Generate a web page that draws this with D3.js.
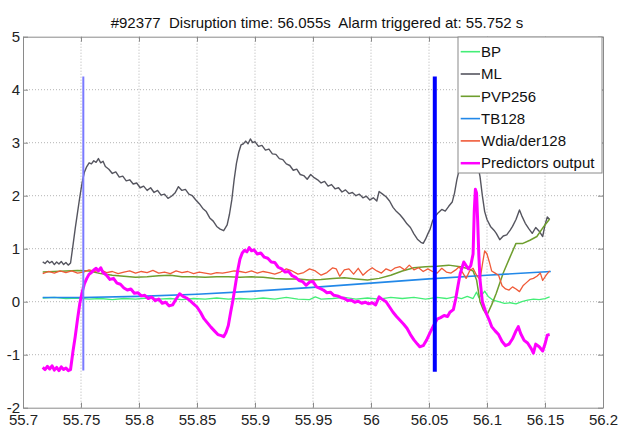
<!DOCTYPE html>
<html>
<head>
<meta charset="utf-8">
<script src="https://cdn.jsdelivr.net/npm/d3@7"></script>
<style>
  body { margin: 0; background: #fff; }
  svg { display: block; font-family: "Liberation Sans", Arial, sans-serif; }
</style>
</head>
<body>
<script>
// ---- data ----
const titleText = "#92377  Disruption time: 56.055s  Alarm triggered at: 55.752 s";
const xTicks = [55.7, 55.75, 55.8, 55.85, 55.9, 55.95, 56, 56.05, 56.1, 56.15, 56.2];
const xTickLabels = ["55.7", "55.75", "55.8", "55.85", "55.9", "55.95", "56", "56.05", "56.1", "56.15", "56.2"];
const yTicks = [-2, -1, 0, 1, 2, 3, 4, 5];
const yTickLabels = ["-2", "-1", "0", "1", "2", "3", "4", "5"];
const seriesNames = ["BP", "ML", "PVP256", "TB128", "Wdia/der128", "Predictors output"];
const seriesColors = ["#44ee77", "#55555f", "#6e9e2e", "#2288e8", "#f05a38", "#ff00ff"];

const bp = [[55.717,0.07],[55.727,0.08],[55.737,0.06],[55.747,0.07],[55.757,0.05],[55.767,0.06],[55.777,0.04],[55.787,0.06],[55.797,0.05],[55.807,0.07],[55.817,0.05],[55.827,0.06],[55.837,0.04],[55.847,0.06],[55.857,0.05],[55.867,0.07],[55.877,0.05],[55.887,0.06],[55.897,0.05],[55.907,0.07],[55.917,0.05],[55.927,0.08],[55.937,0.05],[55.947,0.04],[55.952,0.09],[55.957,0.05],[55.967,0.06],[55.977,0.08],[55.987,0.05],[55.997,0.07],[56.007,0.05],[56.017,0.08],[56.027,0.06],[56.037,0.08],[56.047,0.05],[56.057,0.08],[56.065,0.06],[56.072,0.09],[56.078,0.06],[56.083,0.10],[56.088,0.06],[56.091,0.18],[56.093,0.08],[56.096,0.14],[56.098,0.20],[56.101,0.10],[56.105,0.03],[56.110,0.00],[56.115,-0.03],[56.120,-0.02],[56.125,-0.04],[56.130,0.00],[56.135,0.03],[56.140,0.05],[56.145,0.04],[56.150,0.06],[56.154,0.09]];

const ml = [[55.717,0.75],[55.719,0.72],[55.721,0.77],[55.723,0.73],[55.725,0.76],[55.727,0.70],[55.729,0.75],[55.731,0.71],[55.733,0.76],[55.735,0.70],[55.737,0.74],[55.739,0.69],[55.741,0.73],[55.743,1.05],[55.745,1.38],[55.747,1.68],[55.749,1.98],[55.751,2.25],[55.753,2.45],[55.755,2.55],[55.757,2.62],[55.759,2.60],[55.761,2.66],[55.763,2.63],[55.765,2.70],[55.767,2.62],[55.769,2.65],[55.771,2.55],[55.774,2.50],[55.777,2.42],[55.780,2.45],[55.783,2.35],[55.786,2.37],[55.789,2.28],[55.792,2.30],[55.795,2.22],[55.798,2.24],[55.801,2.15],[55.804,2.18],[55.807,2.10],[55.810,2.15],[55.813,2.06],[55.816,2.10],[55.819,2.01],[55.822,2.03],[55.825,1.95],[55.828,1.99],[55.831,2.05],[55.834,2.17],[55.837,2.10],[55.840,2.12],[55.843,2.03],[55.846,2.00],[55.849,1.92],[55.852,1.85],[55.855,1.76],[55.858,1.70],[55.861,1.58],[55.864,1.52],[55.867,1.42],[55.870,1.37],[55.873,1.34],[55.876,1.45],[55.878,1.65],[55.880,1.92],[55.882,2.30],[55.884,2.61],[55.886,2.82],[55.888,2.96],[55.890,2.98],[55.892,3.03],[55.894,2.98],[55.896,3.07],[55.898,3.00],[55.900,3.02],[55.903,2.93],[55.906,2.95],[55.909,2.86],[55.912,2.88],[55.915,2.79],[55.918,2.78],[55.921,2.70],[55.924,2.68],[55.927,2.60],[55.930,2.57],[55.933,2.48],[55.936,2.50],[55.939,2.40],[55.942,2.38],[55.945,2.31],[55.948,2.40],[55.951,2.34],[55.954,2.30],[55.957,2.24],[55.960,2.27],[55.963,2.18],[55.966,2.21],[55.969,2.13],[55.972,2.15],[55.975,2.07],[55.978,2.11],[55.981,2.04],[55.984,2.06],[55.987,2.00],[55.990,2.03],[55.993,1.96],[55.996,1.99],[55.999,1.92],[56.002,1.96],[56.005,1.90],[56.007,2.08],[56.010,2.03],[56.013,1.98],[56.016,1.90],[56.019,1.78],[56.022,1.70],[56.025,1.64],[56.028,1.56],[56.031,1.47],[56.034,1.40],[56.037,1.28],[56.040,1.18],[56.043,1.12],[56.045,1.10],[56.047,1.18],[56.049,1.28],[56.051,1.37],[56.053,1.52],[56.055,1.60],[56.058,1.68],[56.061,1.74],[56.064,1.71],[56.067,1.80],[56.070,1.88],[56.072,2.05],[56.074,2.30],[56.077,2.58],[56.080,2.78],[56.084,2.92],[56.088,2.85],[56.091,2.70],[56.094,2.36],[56.096,2.00],[56.098,1.70],[56.100,1.55],[56.103,1.42],[56.106,1.35],[56.108,1.29],[56.111,1.17],[56.114,1.24],[56.117,1.26],[56.120,1.35],[56.122,1.42],[56.125,1.55],[56.128,1.73],[56.130,1.62],[56.133,1.48],[56.136,1.38],[56.139,1.29],[56.142,1.40],[56.145,1.33],[56.148,1.23],[56.150,1.45],[56.152,1.60],[56.154,1.55]];

const pvp = [[55.717,0.56],[55.727,0.57],[55.737,0.58],[55.747,0.59],[55.757,0.58],[55.767,0.53],[55.777,0.50],[55.787,0.48],[55.797,0.46],[55.807,0.47],[55.817,0.49],[55.827,0.50],[55.837,0.47],[55.847,0.47],[55.857,0.46],[55.867,0.47],[55.877,0.47],[55.887,0.46],[55.897,0.47],[55.907,0.46],[55.917,0.44],[55.927,0.43],[55.937,0.43],[55.947,0.41],[55.957,0.42],[55.967,0.44],[55.977,0.45],[55.987,0.43],[55.997,0.41],[56.007,0.44],[56.017,0.50],[56.027,0.58],[56.037,0.64],[56.047,0.66],[56.057,0.67],[56.067,0.69],[56.077,0.66],[56.084,0.62],[56.088,0.58],[56.091,0.41],[56.094,0.00],[56.097,-0.16],[56.100,-0.25],[56.104,-0.06],[56.108,0.16],[56.114,0.54],[56.120,0.85],[56.125,1.10],[56.131,1.10],[56.137,1.16],[56.143,1.23],[56.149,1.42],[56.154,1.56]];

const tb = [[55.717,0.08],[55.75,0.08],[55.8,0.10],[55.85,0.14],[55.9,0.20],[55.95,0.27],[56.0,0.35],[56.05,0.43],[56.1,0.50],[56.155,0.57]];

const wdia = [[55.717,0.53],[55.722,0.57],[55.727,0.54],[55.732,0.58],[55.737,0.55],[55.742,0.58],[55.747,0.54],[55.752,0.56],[55.757,0.60],[55.762,0.57],[55.767,0.60],[55.772,0.55],[55.777,0.57],[55.782,0.53],[55.787,0.56],[55.792,0.58],[55.797,0.54],[55.802,0.57],[55.807,0.55],[55.812,0.59],[55.817,0.54],[55.822,0.56],[55.827,0.53],[55.832,0.58],[55.837,0.55],[55.842,0.57],[55.847,0.53],[55.852,0.56],[55.857,0.54],[55.862,0.52],[55.867,0.55],[55.872,0.54],[55.877,0.56],[55.882,0.58],[55.887,0.57],[55.892,0.55],[55.897,0.58],[55.902,0.54],[55.907,0.57],[55.912,0.55],[55.917,0.52],[55.922,0.56],[55.927,0.62],[55.932,0.58],[55.937,0.52],[55.942,0.55],[55.947,0.62],[55.952,0.58],[55.957,0.50],[55.962,0.55],[55.967,0.64],[55.970,0.62],[55.973,0.48],[55.977,0.60],[55.981,0.62],[55.985,0.52],[55.989,0.63],[55.993,0.50],[55.997,0.58],[56.001,0.64],[56.005,0.58],[56.009,0.54],[56.013,0.62],[56.017,0.58],[56.021,0.64],[56.025,0.66],[56.029,0.60],[56.033,0.69],[56.037,0.60],[56.041,0.64],[56.045,0.57],[56.049,0.62],[56.053,0.57],[56.057,0.54],[56.061,0.63],[56.065,0.56],[56.069,0.54],[56.073,0.60],[56.076,0.66],[56.079,0.55],[56.082,0.44],[56.085,0.58],[56.088,0.63],[56.091,0.50],[56.094,0.41],[56.096,0.70],[56.098,0.96],[56.100,0.90],[56.102,0.75],[56.104,0.58],[56.107,0.54],[56.110,0.50],[56.113,0.30],[56.116,0.24],[56.119,0.22],[56.122,0.28],[56.125,0.24],[56.128,0.19],[56.131,0.30],[56.134,0.36],[56.137,0.42],[56.140,0.44],[56.143,0.48],[56.146,0.54],[56.148,0.40],[56.151,0.50],[56.154,0.58]];

const pred = [[55.717,-1.24],[55.719,-1.28],[55.721,-1.22],[55.723,-1.27],[55.725,-1.21],[55.727,-1.29],[55.729,-1.24],[55.731,-1.30],[55.733,-1.23],[55.735,-1.28],[55.737,-1.25],[55.739,-1.30],[55.741,-1.28],[55.743,-0.95],[55.745,-0.66],[55.747,-0.33],[55.749,-0.03],[55.751,0.18],[55.753,0.34],[55.755,0.44],[55.757,0.52],[55.759,0.55],[55.761,0.60],[55.763,0.63],[55.765,0.58],[55.767,0.64],[55.769,0.55],[55.772,0.50],[55.775,0.42],[55.778,0.44],[55.781,0.35],[55.784,0.33],[55.787,0.26],[55.790,0.22],[55.793,0.24],[55.796,0.16],[55.799,0.17],[55.802,0.11],[55.805,0.12],[55.808,0.06],[55.811,0.09],[55.814,0.02],[55.817,0.05],[55.820,-0.03],[55.823,-0.01],[55.826,-0.08],[55.829,-0.06],[55.832,0.05],[55.835,0.15],[55.838,0.10],[55.841,0.07],[55.844,0.02],[55.847,-0.04],[55.850,-0.10],[55.853,-0.20],[55.856,-0.32],[55.859,-0.40],[55.862,-0.48],[55.865,-0.55],[55.868,-0.62],[55.871,-0.64],[55.873,-0.66],[55.875,-0.58],[55.877,-0.45],[55.879,-0.20],[55.881,0.03],[55.883,0.30],[55.885,0.58],[55.887,0.80],[55.889,0.92],[55.891,0.97],[55.893,0.94],[55.895,1.02],[55.897,0.96],[55.899,0.98],[55.902,0.90],[55.905,0.92],[55.908,0.84],[55.911,0.82],[55.914,0.75],[55.917,0.74],[55.920,0.65],[55.923,0.62],[55.926,0.56],[55.929,0.57],[55.932,0.49],[55.935,0.46],[55.938,0.40],[55.941,0.38],[55.944,0.31],[55.947,0.37],[55.950,0.38],[55.953,0.28],[55.956,0.25],[55.959,0.22],[55.962,0.17],[55.965,0.18],[55.968,0.12],[55.971,0.11],[55.974,0.08],[55.977,0.06],[55.980,0.02],[55.983,0.03],[55.986,-0.01],[55.989,0.01],[55.992,-0.03],[55.995,-0.01],[55.998,-0.04],[56.001,-0.02],[56.004,-0.06],[56.007,0.09],[56.010,0.04],[56.013,0.00],[56.016,-0.10],[56.019,-0.20],[56.022,-0.28],[56.025,-0.35],[56.028,-0.42],[56.031,-0.50],[56.034,-0.62],[56.037,-0.72],[56.040,-0.80],[56.042,-0.85],[56.045,-0.83],[56.048,-0.72],[56.051,-0.58],[56.054,-0.45],[56.057,-0.33],[56.060,-0.30],[56.063,-0.26],[56.066,-0.28],[56.068,-0.20],[56.071,-0.15],[56.073,0.05],[56.075,0.30],[56.077,0.54],[56.080,0.75],[56.082,0.68],[56.084,0.62],[56.086,0.68],[56.088,0.90],[56.089,1.70],[56.090,2.12],[56.091,2.05],[56.092,1.50],[56.093,0.85],[56.094,0.41],[56.096,0.00],[56.099,-0.20],[56.102,-0.35],[56.104,-0.47],[56.107,-0.55],[56.110,-0.62],[56.113,-0.75],[56.116,-0.83],[56.119,-0.80],[56.122,-0.70],[56.125,-0.55],[56.127,-0.47],[56.129,-0.60],[56.132,-0.73],[56.135,-0.78],[56.138,-0.88],[56.140,-0.97],[56.142,-0.80],[56.145,-0.85],[56.148,-0.93],[56.150,-0.80],[56.152,-0.63],[56.154,-0.62]];

// alarm / disruption markers: [time, yBottom, yTop]
const alarmLine = [55.752, -1.3, 4.25];
const disruptionLine = [56.055, -1.32, 4.25];

// ---- layout ----
const width = 618, height = 432;
const margin = { top: 36.7, right: 15, bottom: 24.3, left: 23 };

const svg = d3.select("body").append("svg")
    .attr("width", width)
    .attr("height", height);

const x = d3.scaleLinear().domain([55.7, 56.2]).range([margin.left, width - margin.right]);
const y = d3.scaleLinear().domain([-2, 5]).range([height - margin.bottom, margin.top]);

// grid
const grid = svg.append("g").attr("stroke", "#b4b4b4").attr("stroke-dasharray", "1,2").attr("stroke-width", 1);
grid.selectAll("line.gx").data(xTicks.slice(1, -1)).enter().append("line")
    .attr("x1", d => x(d)).attr("x2", d => x(d))
    .attr("y1", y(-2)).attr("y2", y(5));
grid.selectAll("line.gy").data(yTicks.slice(1, -1)).enter().append("line")
    .attr("y1", d => y(d)).attr("y2", d => y(d))
    .attr("x1", x(55.7)).attr("x2", x(56.2));

// axes (box with inward ticks)
svg.append("g")
    .attr("transform", `translate(0,${y(-2)})`)
    .call(d3.axisBottom(x).tickValues(xTicks).tickFormat((d, i) => xTickLabels[i]).tickSizeInner(-5).tickSizeOuter(0).tickPadding(7))
    .call(g => g.selectAll("text").attr("font-size", 15).attr("fill", "#222").attr("font-family", "Liberation Sans, Arial"));
svg.append("g")
    .attr("transform", `translate(0,${y(5)})`)
    .call(d3.axisTop(x).tickValues(xTicks).tickFormat("").tickSizeInner(-5).tickSizeOuter(0));
svg.append("g")
    .attr("transform", `translate(${x(55.7)},0)`)
    .call(d3.axisLeft(y).tickValues(yTicks).tickFormat((d, i) => yTickLabels[i]).tickSizeInner(-5).tickSizeOuter(0).tickPadding(3))
    .call(g => g.selectAll("text").attr("font-size", 15).attr("fill", "#222").attr("font-family", "Liberation Sans, Arial"));
svg.append("g")
    .attr("transform", `translate(${x(56.2)},0)`)
    .call(d3.axisRight(y).tickValues(yTicks).tickFormat("").tickSizeInner(-5).tickSizeOuter(0));
svg.selectAll(".domain").attr("stroke", "#8a8a8a");
svg.selectAll(".tick line").attr("stroke", "#8a8a8a");

// series
const line = d3.line().x(d => x(d[0])).y(d => y(d[1]));
const allSeries = [bp, ml, pvp, tb, wdia, pred];
const widths = [1.3, 1.4, 1.5, 1.6, 1.3, 3];
const plot = svg.append("g");
allSeries.forEach((s, i) => {
    plot.append("path")
        .datum(s)
        .attr("d", line)
        .attr("fill", "none")
        .attr("stroke", seriesColors[i])
        .attr("stroke-width", widths[i])
        .attr("stroke-linejoin", "round");
});

// markers
plot.append("line")
    .attr("x1", x(alarmLine[0])).attr("x2", x(alarmLine[0]))
    .attr("y1", y(alarmLine[1])).attr("y2", y(alarmLine[2]))
    .attr("stroke", "#7a7aff").attr("stroke-width", 2);
plot.append("line")
    .attr("x1", x(disruptionLine[0])).attr("x2", x(disruptionLine[0]))
    .attr("y1", y(disruptionLine[1])).attr("y2", y(disruptionLine[2]))
    .attr("stroke", "#0000ff").attr("stroke-width", 4);

// title
svg.append("text")
    .attr("x", (x(55.7) + x(56.2)) / 2 + 4)
    .attr("y", 28)
    .attr("text-anchor", "middle")
    .attr("font-size", 15)
    .attr("fill", "#111")
    .style("white-space", "pre")
    .text(titleText);

// legend
const legX = 458, legY = 37, legW = 144, legH = 136, rowH = 22.3;
const legend = svg.append("g");
legend.append("rect")
    .attr("x", legX).attr("y", legY).attr("width", legW).attr("height", legH)
    .attr("fill", "#fff").attr("stroke", "#8a8a8a");
const rows = legend.selectAll("g.row").data(seriesNames).enter().append("g")
    .attr("transform", (d, i) => `translate(${legX}, ${legY + 14.7 + i * rowH})`);
rows.append("line")
    .attr("x1", 2.7).attr("x2", 22)
    .attr("stroke", (d, i) => seriesColors[i])
    .attr("stroke-width", (d, i) => i === 5 ? 2.5 : 1.6);
rows.append("text")
    .attr("x", 23)
    .attr("dy", "0.35em")
    .attr("font-size", 15)
    .attr("fill", "#111")
    .text(d => d);
</script>
</body>
</html>
